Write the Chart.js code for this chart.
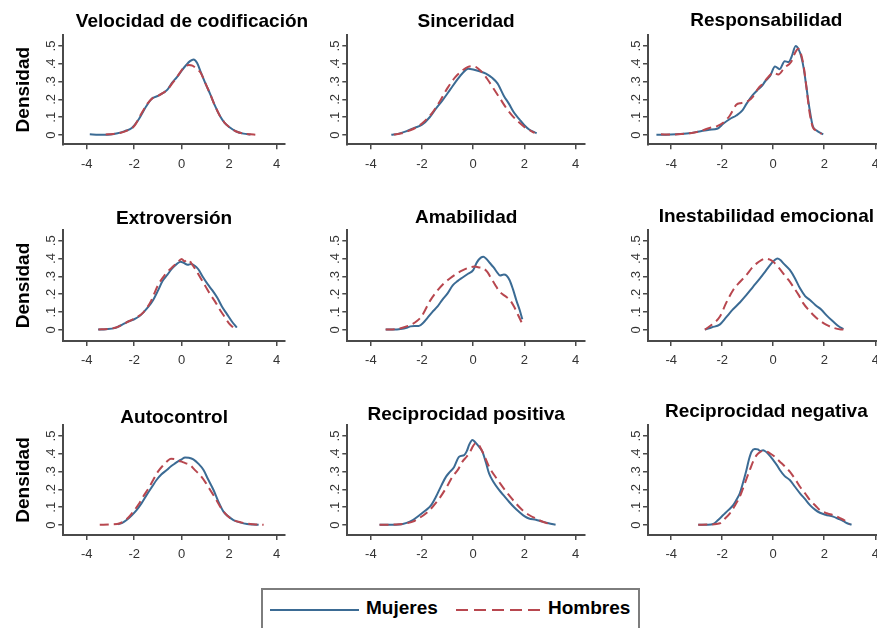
<!DOCTYPE html>
<html>
<head>
<meta charset="utf-8">
<script src="https://cdn.jsdelivr.net/npm/chart.js@4.4.0/dist/chart.umd.min.js"></script>
<style>
html,body{margin:0;padding:0;width:877px;height:628px;overflow:hidden;background:#fff;position:relative;}
canvas{position:absolute;left:0;top:0;}
.lg{position:absolute;font:bold 19px "Liberation Sans",Arial,Helvetica,sans-serif;color:#000;line-height:22px;white-space:nowrap;}
#lgbox{position:absolute;left:261px;top:588px;width:379px;height:60px;border:2px solid #7d7d7d;box-sizing:border-box;}
#lgBlue{position:absolute;left:270px;top:609px;width:89px;height:2px;background:#3b6b94;}
#lgRed{position:absolute;left:456px;top:609px;width:90px;height:2px;background:repeating-linear-gradient(to right,#b8474f 0,#b8474f 12px,transparent 12px,transparent 18px);}
</style>
</head>
<body>
<div id="lgbox"></div>
<div id="lgBlue"></div>
<div id="lgRed"></div>
<div class="lg" id="lgT1" style="left:366px;top:597px;"></div>
<div class="lg" id="lgT2" style="left:548px;top:597px;"></div>
<script>
// ---------- labels ----------
const panelTitles = ['Velocidad de codificación','Sinceridad','Responsabilidad','Extroversión','Amabilidad','Inestabilidad emocional','Autocontrol','Reciprocidad positiva','Reciprocidad negativa'];
const seriesNames = ['Mujeres','Hombres'];
const yAxisTitle = 'Densidad';
const xTicks = [-4,-2,0,2,4];
const xTickLabels = ['-4','-2','0','2','4'];
const yTicks = [0,0.1,0.2,0.3,0.4,0.5];
const yTickLabels = ['0','.1','.2','.3','.4','.5'];

// ---------- data (density curves) ----------
const velMujX = [-3.87,-3.5,-3.1,-2.7,-2.4,-2.1,-1.8,-1.5,-1.25,-1.0,-0.8,-0.6,-0.4,-0.2,0.0,0.2,0.35,0.5,0.65,0.8,1.0,1.2,1.4,1.6,1.8,2.0,2.3,2.6,2.9];
const velMujY = [0.004,0.001,0.002,0.01,0.022,0.04,0.09,0.16,0.205,0.22,0.235,0.255,0.295,0.325,0.362,0.395,0.415,0.425,0.405,0.355,0.29,0.23,0.165,0.11,0.07,0.045,0.02,0.008,0.003];
const velHomX = [-3.2,-2.9,-2.6,-2.3,-2.0,-1.7,-1.45,-1.2,-1.0,-0.8,-0.6,-0.4,-0.2,0.0,0.15,0.3,0.45,0.6,0.8,1.0,1.2,1.4,1.6,1.8,2.0,2.3,2.6,2.9,3.1];
const velHomY = [0.003,0.006,0.012,0.025,0.05,0.12,0.175,0.21,0.22,0.235,0.255,0.29,0.325,0.365,0.385,0.393,0.39,0.375,0.35,0.29,0.23,0.165,0.11,0.07,0.045,0.02,0.008,0.004,0.002];

const sinMujX = [-3.2,-2.9,-2.6,-2.3,-2.0,-1.7,-1.45,-1.2,-0.9,-0.6,-0.4,-0.2,0.0,0.25,0.5,0.75,0.95,1.2,1.4,1.6,1.8,2.0,2.2,2.48];
const sinMujY = [0.002,0.008,0.022,0.04,0.058,0.1,0.15,0.195,0.255,0.315,0.35,0.372,0.368,0.358,0.345,0.32,0.29,0.22,0.175,0.125,0.09,0.055,0.03,0.01];
const sinHomX = [-3.1,-2.8,-2.5,-2.2,-1.9,-1.6,-1.3,-1.0,-0.7,-0.4,-0.2,-0.05,0.1,0.3,0.55,0.8,1.05,1.3,1.55,1.8,2.05,2.4];
const sinHomY = [0.003,0.01,0.025,0.045,0.078,0.125,0.19,0.265,0.325,0.365,0.383,0.387,0.383,0.36,0.315,0.26,0.205,0.15,0.105,0.07,0.04,0.012];

const resMujX = [-4.58,-4.2,-3.8,-3.3,-2.9,-2.5,-2.2,-1.95,-1.7,-1.45,-1.2,-1.05,-0.8,-0.6,-0.45,-0.3,-0.13,0.07,0.25,0.45,0.6,0.72,0.88,1.0,1.1,1.2,1.3,1.42,1.55,1.7,1.85,1.96];
const resMujY = [0.002,0.002,0.004,0.01,0.02,0.03,0.035,0.065,0.09,0.11,0.14,0.175,0.225,0.255,0.275,0.305,0.33,0.385,0.37,0.415,0.41,0.44,0.5,0.48,0.44,0.37,0.27,0.15,0.05,0.025,0.012,0.004];
const resHomX = [-4.4,-4.0,-3.6,-3.2,-2.8,-2.5,-2.2,-1.95,-1.7,-1.45,-1.25,-1.0,-0.8,-0.6,-0.4,-0.2,0.0,0.2,0.45,0.7,0.85,0.98,1.1,1.2,1.3,1.42,1.55,1.7,1.9];
const resHomY = [0.004,0.003,0.006,0.012,0.025,0.04,0.05,0.07,0.11,0.17,0.18,0.19,0.215,0.26,0.29,0.325,0.35,0.34,0.38,0.41,0.46,0.485,0.45,0.38,0.27,0.13,0.045,0.025,0.006];

const extMujX = [-3.52,-3.2,-2.82,-2.5,-2.2,-2.0,-1.8,-1.6,-1.4,-1.2,-1.0,-0.8,-0.6,-0.4,-0.2,-0.05,0.1,0.25,0.4,0.55,0.7,0.9,1.1,1.3,1.5,1.7,1.9,2.1,2.32];
const extMujY = [0.002,0.004,0.01,0.03,0.05,0.06,0.075,0.1,0.13,0.168,0.22,0.275,0.31,0.345,0.37,0.382,0.375,0.365,0.37,0.36,0.34,0.295,0.255,0.22,0.18,0.13,0.09,0.05,0.013];
const extHomX = [-3.5,-3.1,-2.8,-2.5,-2.2,-1.9,-1.6,-1.3,-1.0,-0.7,-0.45,-0.2,0.0,0.12,0.25,0.4,0.6,0.8,1.0,1.2,1.4,1.6,1.8,2.0,2.2];
const extHomY = [0.003,0.006,0.012,0.03,0.05,0.07,0.1,0.16,0.25,0.31,0.345,0.375,0.398,0.385,0.395,0.375,0.335,0.29,0.245,0.2,0.16,0.115,0.075,0.035,0.01];

const amaMujX = [-3.42,-3.1,-2.84,-2.6,-2.45,-2.3,-2.13,-1.95,-1.8,-1.6,-1.4,-1.2,-1.0,-0.8,-0.6,-0.4,-0.2,0.0,0.15,0.3,0.4,0.5,0.65,0.8,0.95,1.05,1.2,1.3,1.42,1.55,1.7,1.82,1.92];
const amaMujY = [0.002,0.002,0.005,0.012,0.02,0.022,0.022,0.04,0.065,0.1,0.13,0.17,0.205,0.25,0.275,0.295,0.315,0.335,0.38,0.405,0.41,0.4,0.375,0.35,0.32,0.305,0.31,0.305,0.28,0.23,0.16,0.11,0.06];
const amaHomX = [-3.42,-3.0,-2.7,-2.45,-2.2,-2.0,-1.7,-1.4,-1.15,-0.9,-0.65,-0.4,-0.15,0.05,0.25,0.4,0.55,0.7,0.85,1.0,1.15,1.3,1.45,1.6,1.75,1.9];
const amaHomY = [0.002,0.005,0.015,0.028,0.05,0.08,0.16,0.22,0.26,0.29,0.315,0.335,0.35,0.355,0.35,0.345,0.325,0.29,0.255,0.22,0.2,0.185,0.165,0.13,0.085,0.04];

const ineMujX = [-2.68,-2.4,-2.1,-1.85,-1.6,-1.3,-1.05,-0.8,-0.52,-0.3,-0.07,0.05,0.16,0.28,0.4,0.65,0.85,1.05,1.25,1.44,1.65,1.9,2.1,2.35,2.55,2.75];
const ineMujY = [0.002,0.015,0.03,0.07,0.112,0.155,0.196,0.24,0.289,0.33,0.373,0.39,0.4,0.392,0.373,0.336,0.29,0.233,0.19,0.168,0.14,0.112,0.08,0.047,0.022,0.004];
const ineHomX = [-2.68,-2.4,-2.09,-1.85,-1.57,-1.3,-1.05,-0.85,-0.65,-0.45,-0.33,-0.15,0.0,0.2,0.39,0.6,0.78,1.0,1.18,1.4,1.57,1.8,2.09,2.4,2.65,2.88];
const ineHomY = [0.002,0.03,0.075,0.15,0.224,0.27,0.308,0.345,0.373,0.393,0.4,0.395,0.382,0.352,0.317,0.28,0.243,0.195,0.149,0.11,0.084,0.055,0.028,0.01,0.003,0.001];

const autMujX = [-2.68,-2.5,-2.32,-2.1,-1.9,-1.7,-1.48,-1.25,-1.06,-0.85,-0.63,-0.45,-0.28,-0.12,0.0,0.14,0.3,0.49,0.7,0.92,1.1,1.34,1.55,1.76,1.95,2.18,2.45,2.75,3.0,3.24];
const autMujY = [0.004,0.012,0.028,0.055,0.084,0.12,0.168,0.215,0.253,0.285,0.309,0.33,0.346,0.36,0.369,0.38,0.378,0.369,0.345,0.309,0.26,0.197,0.13,0.075,0.05,0.028,0.015,0.006,0.003,0.001];
const autHomX = [-3.45,-3.0,-2.6,-2.3,-2.04,-1.82,-1.62,-1.4,-1.2,-1.0,-0.77,-0.6,-0.45,-0.28,-0.1,0.0,0.15,0.35,0.55,0.77,1.0,1.2,1.42,1.62,1.9,2.18,2.5,2.9,3.2,3.45];
const autHomY = [0.001,0.003,0.01,0.035,0.075,0.115,0.16,0.205,0.253,0.3,0.337,0.36,0.372,0.37,0.36,0.356,0.348,0.337,0.31,0.281,0.24,0.197,0.15,0.103,0.055,0.028,0.015,0.006,0.003,0.001];

const rpoMujX = [-3.66,-3.3,-2.88,-2.6,-2.36,-2.1,-1.84,-1.65,-1.45,-1.25,-1.06,-0.9,-0.75,-0.55,-0.35,-0.25,-0.16,-0.03,0.08,0.17,0.28,0.36,0.5,0.62,0.8,1.01,1.2,1.4,1.6,1.79,2.0,2.18,2.45,2.7,2.95,3.22];
const rpoMujY = [0.002,0.002,0.003,0.012,0.028,0.055,0.084,0.11,0.16,0.22,0.272,0.3,0.325,0.384,0.393,0.415,0.45,0.478,0.465,0.45,0.43,0.412,0.35,0.29,0.24,0.197,0.165,0.131,0.1,0.075,0.05,0.037,0.03,0.019,0.01,0.002];
const rpoHomX = [-3.66,-3.3,-2.9,-2.6,-2.36,-2.1,-1.84,-1.6,-1.32,-1.05,-0.81,-0.6,-0.42,-0.25,-0.09,0.0,0.1,0.2,0.3,0.45,0.62,0.8,1.01,1.2,1.4,1.65,1.92,2.2,2.44,2.7,2.96];
const rpoHomY = [0.002,0.002,0.004,0.01,0.019,0.04,0.066,0.1,0.15,0.21,0.272,0.31,0.356,0.385,0.42,0.445,0.459,0.455,0.43,0.385,0.328,0.285,0.243,0.205,0.168,0.125,0.084,0.055,0.037,0.02,0.006];

const rneMujX = [-2.94,-2.6,-2.35,-2.15,-1.96,-1.75,-1.57,-1.45,-1.31,-1.18,-1.05,-0.95,-0.85,-0.72,-0.6,-0.52,-0.4,-0.33,-0.2,0.0,0.15,0.26,0.45,0.65,0.85,1.05,1.25,1.44,1.65,1.83,2.05,2.35,2.55,2.75,2.9,3.07];
const rneMujY = [0.001,0.002,0.006,0.03,0.056,0.085,0.112,0.14,0.178,0.24,0.309,0.37,0.412,0.427,0.425,0.416,0.42,0.416,0.4,0.365,0.335,0.309,0.275,0.253,0.215,0.178,0.145,0.112,0.085,0.069,0.058,0.047,0.035,0.022,0.01,0.002];
const rneHomX = [-2.94,-2.5,-2.09,-1.9,-1.7,-1.5,-1.31,-1.1,-0.92,-0.78,-0.65,-0.52,-0.39,-0.25,-0.13,0.05,0.26,0.45,0.65,0.85,1.05,1.25,1.44,1.65,1.83,2.1,2.35,2.6,2.88,3.0];
const rneHomY = [0.001,0.003,0.01,0.035,0.066,0.11,0.16,0.24,0.309,0.36,0.393,0.41,0.416,0.412,0.403,0.385,0.356,0.33,0.3,0.26,0.215,0.178,0.14,0.11,0.084,0.066,0.056,0.04,0.019,0.006];

// ---------- layout & style ----------
Chart.defaults.font.family = "'Liberation Sans', Arial, Helvetica, sans-serif";
const BLUE = '#3b6b94', RED = '#b8474f', AXIS = '#4a4a4a', TICKC = '#333333';
const CW = 900, CH = 628;
const colLeft = [63.3, 347.3, 648], colRight = [285, 585, 884.7];
const colXMin = [-4.985, -4.92, -4.91], colXMax = [4.35, 4.37, 4.37];
const rowTop = [35, 230, 425], rowBottom = [144.3, 341, 535];
const rowYMin = [-0.052, -0.062, -0.056], rowYMax = [0.562, 0.56, 0.562];
const X_SCALE_H = 40;
const TITLE_SIZE = 19, TITLE_LH = 0.8;

document.getElementById('lgT1').textContent = seriesNames[0];
document.getElementById('lgT2').textContent = seriesNames[1];

function pts(xs, ys) { return xs.map((x, i) => ({x: x, y: ys[i]})); }

function makePanel(p) {
  const cv = document.createElement('canvas');
  cv.width = CW; cv.height = CH;
  cv.style.width = CW + 'px'; cv.style.height = CH + 'px';
  document.body.appendChild(cv);
  const L = colLeft[p.col], R = colRight[p.col], T = rowTop[p.row], B = rowBottom[p.row];
  const yW = p.col === 0 ? L : 50;
  const padLeft = L - yW;
  let padRight = CW - R, dummyW = 0;
  if (p.titleCenter) {
    const span = 2 * (p.titleCenter - padLeft);
    padRight = CW - (padLeft + span);
    dummyW = padLeft + span - R;
  }
  const lh = TITLE_SIZE * TITLE_LH;
  const gridOpts = {display: true, drawOnChartArea: false, drawTicks: true, tickLength: 5, color: AXIS, lineWidth: 1.5};
  const borderOpts = {display: true, color: AXIS, width: 2};
  const scales = {
    x: {
      type: 'linear', position: 'bottom', min: colXMin[p.col], max: colXMax[p.col],
      afterBuildTicks: s => { s.ticks = xTicks.map(v => ({value: v})); },
      afterFit: s => { s.height = X_SCALE_H; },
      grid: gridOpts, border: borderOpts,
      ticks: {font: {size: 13}, color: TICKC, padding: 7, maxRotation: 0, minRotation: 0, autoSkip: false,
              callback: (v, i) => xTickLabels[i]}
    },
    y: {
      type: 'linear', position: 'left', min: rowYMin[p.row], max: rowYMax[p.row],
      afterBuildTicks: s => { s.ticks = yTicks.map(v => ({value: v})); },
      afterFit: s => { s.width = yW; },
      grid: gridOpts, border: borderOpts,
      ticks: {font: {size: 13}, color: TICKC, padding: 1, minRotation: 90, maxRotation: 90, crossAlign: 'center', autoSkip: false,
              callback: (v, i) => yTickLabels[i]},
      title: {display: p.col === 0, text: yAxisTitle, color: '#000',
              font: {size: TITLE_SIZE, weight: 'bold', lineHeight: 1.2},
              padding: {top: 24 - TITLE_SIZE * 0.6 - padLeft, bottom: 0}}
    }
  };
  if (dummyW > 0) {
    scales.yR = {type: 'linear', position: 'right', display: true,
      grid: {display: false}, border: {display: false}, ticks: {display: false},
      afterFit: s => { s.width = dummyW; }};
  }
  new Chart(cv, {
    type: 'line',
    data: {
      datasets: [
        {label: seriesNames[0], data: pts(p.mx, p.my), borderColor: BLUE, borderWidth: 2, pointRadius: 0,
         fill: false, cubicInterpolationMode: 'monotone', order: 2},
        {label: seriesNames[1], data: pts(p.hx, p.hy), borderColor: RED, borderWidth: 2, borderDash: [9, 5], pointRadius: 0,
         fill: false, cubicInterpolationMode: 'monotone', order: 1}
      ]
    },
    options: {
      responsive: false, animation: false, events: [],
      layout: {padding: {left: padLeft, right: padRight, top: 0, bottom: CH - B - X_SCALE_H}},
      scales: scales,
      plugins: {
        legend: {display: false}, tooltip: {enabled: false},
        title: {display: true, text: p.title, fullSize: !!p.titleCenter, color: '#000',
                font: {size: TITLE_SIZE, weight: 'bold', lineHeight: TITLE_LH},
                padding: {top: p.titleMid - lh / 2, bottom: T - p.titleMid - lh / 2}}
      }
    }
  });
}

const panels = [
  {title: panelTitles[0], col: 0, row: 0, titleMid: 21.5, titleCenter: 192, mx: velMujX, my: velMujY, hx: velHomX, hy: velHomY},
  {title: panelTitles[1], col: 1, row: 0, titleMid: 21.5, mx: sinMujX, my: sinMujY, hx: sinHomX, hy: sinHomY},
  {title: panelTitles[2], col: 2, row: 0, titleMid: 21.2, mx: resMujX, my: resMujY, hx: resHomX, hy: resHomY},
  {title: panelTitles[3], col: 0, row: 1, titleMid: 219, mx: extMujX, my: extMujY, hx: extHomX, hy: extHomY},
  {title: panelTitles[4], col: 1, row: 1, titleMid: 218, mx: amaMujX, my: amaMujY, hx: amaHomX, hy: amaHomY},
  {title: panelTitles[5], col: 2, row: 1, titleMid: 217, mx: ineMujX, my: ineMujY, hx: ineHomX, hy: ineHomY},
  {title: panelTitles[6], col: 0, row: 2, titleMid: 418, mx: autMujX, my: autMujY, hx: autHomX, hy: autHomY},
  {title: panelTitles[7], col: 1, row: 2, titleMid: 414.5, mx: rpoMujX, my: rpoMujY, hx: rpoHomX, hy: rpoHomY},
  {title: panelTitles[8], col: 2, row: 2, titleMid: 411.7, mx: rneMujX, my: rneMujY, hx: rneHomX, hy: rneHomY}
];
panels.forEach(makePanel);
</script>
</body>
</html>
